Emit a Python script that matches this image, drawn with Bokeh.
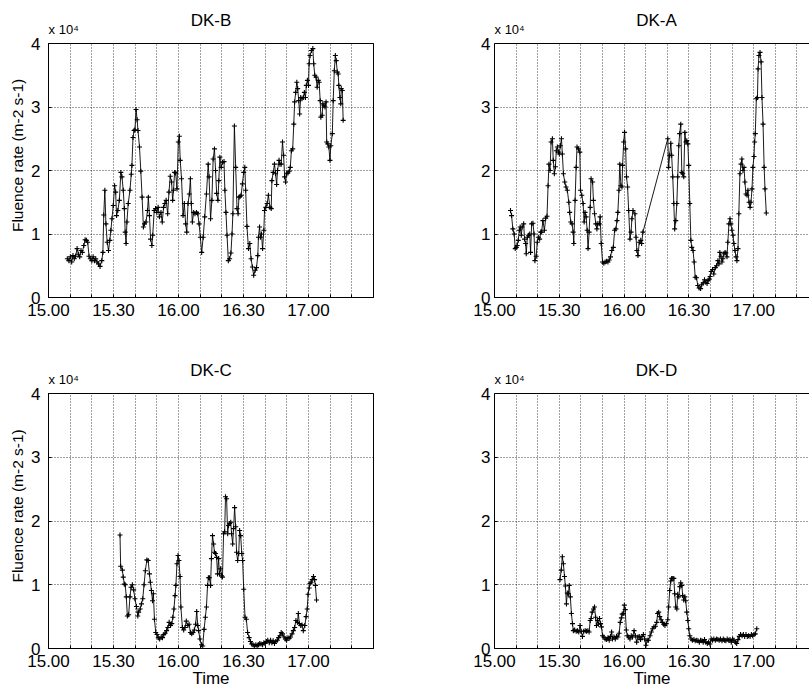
from bokeh.plotting import figure
from bokeh.models import Range1d, FixedTicker, LinearAxis
from bokeh.layouts import column, row
from bokeh.embed import file_html
from bokeh.resources import INLINE

FONT = "Liberation Sans"

# time axis: minutes after 15.00
X_TICKS = [0, 10, 20, 30, 40, 50, 60, 70, 80, 90, 100, 110, 120, 130, 140, 150]
X_TICK_TEXT = {0: "15.00", 30: "15.30", 60: "16.00", 90: "16.30", 120: "17.00"}
Y_TICKS = [0, 1, 2, 3, 4]  # fluence in units of 10^4 m-2 s-1
Y_LABEL = "Fluence rate (m-2 s-1)"
X_LABEL = "Time"
SCALE_TEXT = "x 10\u2074"

# ---------------- DK-B ----------------
dkb_t = [8.7, 9.4, 10.1, 10.7, 11.3, 11.9, 12.5, 13.2, 13.8, 14.4,
         15.0, 15.6, 16.3, 16.9, 17.5, 18.1, 18.7, 19.3, 20.0, 20.6,
         21.2, 21.8, 22.4, 23.1, 23.8, 24.6, 25.1, 25.5, 26.0, 26.5,
         27.1, 27.7, 28.3, 28.8, 29.3, 29.9, 30.5, 31.0, 31.4, 32.0,
         32.7, 33.4, 33.9, 34.5, 35.0, 35.4, 35.8, 36.2, 36.8, 37.6,
         38.2, 38.5, 39.0, 39.5, 39.9, 40.4, 40.9, 41.3, 42.0, 42.6,
         43.2, 43.8, 44.3, 45.0, 45.7, 46.1, 46.6, 47.1, 47.7, 48.1,
         48.8, 49.4, 50.0, 50.6, 51.2, 51.9, 52.5, 53.1, 53.7, 54.3,
         55.0, 55.6, 56.2, 56.8, 57.3, 57.7, 58.2, 58.7, 59.3, 59.9,
         60.4, 60.8, 61.4, 62.1, 62.7, 63.3, 63.8, 64.4, 65.0, 65.5,
         65.9, 66.4, 67.0, 67.6, 68.3, 68.9, 69.5, 70.1, 70.7, 71.4,
         72.1, 72.9, 73.7, 74.1, 74.8, 75.4, 76.0, 76.6, 77.1, 77.6,
         78.2, 78.6, 79.1, 79.7, 80.3, 81.0, 81.4, 81.9, 82.4, 83.0,
         83.6, 84.2, 84.7, 85.1, 85.8, 86.4, 87.0, 87.5, 87.9, 88.4,
         88.9, 89.5, 90.1, 90.6, 91.0, 91.6, 92.3, 92.9, 93.5, 94.1,
         94.7, 95.4, 96.0, 96.6, 96.9, 97.4, 97.8, 98.3, 98.8, 99.4,
         99.7, 100.3, 100.9, 101.5, 102.2, 102.8, 103.1, 103.7, 104.3, 104.8,
         105.3, 105.7, 106.4, 106.8, 107.4, 108.0, 108.5, 109.0, 109.4, 109.9,
         110.5, 111.1, 111.6, 112.1, 112.7, 113.2, 113.6, 114.1, 114.6, 115.0,
         115.5, 115.9, 116.4, 117.0, 117.6, 118.1, 118.6, 119.0, 119.5, 120.0,
         120.3, 120.7, 121.4, 122.0, 122.4, 122.9, 123.5, 124.0, 124.5, 124.9,
         125.4, 125.7, 126.3, 126.6, 127.1, 127.6, 128.1, 128.4, 128.9, 129.4,
         129.9, 130.3, 131.0, 131.4, 131.9, 132.4, 132.8, 133.3, 133.7, 134.0,
         134.5, 134.9, 135.1, 135.6, 136.0]
dkb_v = [0.61, 0.58, 0.64, 0.56, 0.66, 0.61, 0.65, 0.77, 0.68, 0.64,
         0.74, 0.71, 0.82, 0.91, 0.90, 0.87, 0.65, 0.61, 0.58, 0.64,
         0.58, 0.61, 0.56, 0.53, 0.49, 0.58, 0.71, 1.30, 1.69, 1.16,
         0.87, 0.74, 0.90, 1.06, 1.24, 1.45, 1.76, 1.66, 1.29, 1.37,
         1.53, 1.97, 1.90, 1.69, 1.40, 1.03, 0.85, 1.19, 1.48, 1.69,
         1.94, 2.08, 2.52, 2.63, 2.64, 2.96, 2.80, 2.63, 2.37, 1.99,
         1.58, 1.11, 1.16, 1.19, 1.37, 1.58, 1.29, 0.92, 0.82, 0.98,
         1.37, 1.40, 1.34, 1.42, 1.27, 1.34, 1.19, 1.42, 1.48, 1.53,
         1.32, 1.66, 1.91, 1.82, 1.53, 1.69, 1.97, 1.96, 1.71, 2.45,
         2.54, 2.16, 1.87, 1.29, 1.48, 1.16, 1.03, 1.48, 1.63, 1.87,
         1.48, 1.19, 1.34, 1.32, 1.34, 1.32, 1.16, 0.95, 0.71, 0.95,
         1.27, 1.63, 2.10, 1.90, 1.24, 1.53, 2.18, 2.34, 2.00, 1.64,
         1.53, 1.84, 2.21, 2.05, 2.13, 2.14, 1.69, 1.34, 0.98, 0.58,
         0.61, 0.70, 1.00, 1.32, 2.70, 2.05, 1.40, 1.32, 1.58, 1.59,
         1.61, 1.79, 1.97, 2.05, 1.69, 1.12, 0.77, 0.85, 0.61, 0.48,
         0.35, 0.43, 0.47, 0.66, 0.95, 1.11, 0.95, 1.00, 0.77, 1.06,
         1.37, 1.42, 1.48, 1.61, 1.42, 1.40, 1.84, 1.97, 2.10, 1.95,
         1.78, 2.00, 2.16, 2.10, 2.10, 2.45, 2.24, 1.90, 1.82, 1.95,
         1.96, 1.99, 2.05, 2.31, 2.34, 2.73, 3.08, 3.23, 3.39, 3.29,
         3.10, 2.89, 3.15, 3.13, 3.15, 3.23, 3.15, 3.34, 3.42, 3.34,
         3.68, 3.81, 3.89, 3.92, 3.68, 3.50, 3.47, 3.31, 3.42, 3.39,
         3.10, 2.84, 2.87, 3.05, 3.02, 3.00, 3.08, 2.45, 2.42, 2.37,
         2.16, 2.39, 2.58, 3.10, 3.57, 3.81, 3.73, 3.55, 3.52, 3.34,
         3.15, 3.05, 3.29, 3.26, 2.79]

# ---------------- DK-A ----------------
dka_t = [7.4, 7.9, 8.5, 9.1, 9.6, 10.1, 10.5, 11.0, 11.5, 11.9,
         12.4, 12.8, 13.5, 13.9, 14.4, 14.7, 15.2, 15.8, 16.3, 16.7,
         17.2, 17.8, 18.3, 18.7, 19.3, 19.8, 20.3, 20.9, 21.4, 21.8,
         22.4, 23.1, 23.7, 24.3, 24.8, 25.2, 25.7, 26.2, 26.8, 27.2,
         27.7, 28.2, 28.6, 29.1, 29.6, 30.0, 30.5, 31.0, 31.4, 31.9,
         32.5, 33.1, 33.7, 34.4, 34.8, 35.3, 35.9, 36.4, 36.7, 37.3,
         37.8, 38.2, 38.9, 39.5, 39.8, 40.4, 41.0, 41.5, 41.9, 42.4,
         42.9, 43.3, 43.8, 44.3, 44.7, 45.4, 45.8, 46.3, 46.9, 47.4,
         47.8, 48.5, 48.9, 49.4, 50.0, 50.6, 51.2, 51.9, 52.5, 53.1,
         53.7, 54.3, 55.0, 55.6, 56.2, 56.7, 57.1, 57.6, 58.0, 58.5,
         59.0, 59.3, 59.8, 60.2, 60.7, 61.1, 61.6, 62.1, 62.7, 63.2,
         63.6, 64.1, 65.0, 65.5, 65.9, 66.4, 67.0, 67.7, 68.1, 68.7,
         80.2, 80.6, 81.1, 81.6, 82.0, 82.5, 83.0, 83.4, 83.9, 84.4,
         84.8, 85.3, 85.7, 86.2, 86.7, 87.1, 87.6, 88.1, 88.6, 89.0,
         89.5, 89.9, 90.4, 90.9, 91.3, 91.9, 92.4, 92.9, 93.5, 94.1,
         94.7, 95.4, 95.9, 96.6, 97.2, 97.8, 98.4, 98.9, 99.4, 99.8,
         100.3, 100.9, 101.5, 102.2, 102.8, 103.4, 103.9, 104.3, 104.8, 105.3,
         105.7, 106.2, 106.7, 107.1, 107.6, 108.0, 108.5, 109.0, 109.4, 109.9,
         110.4, 110.8, 111.3, 111.8, 112.2, 112.7, 113.1, 113.6, 114.1, 114.5,
         115.0, 115.5, 115.9, 116.4, 116.9, 117.3, 117.8, 118.3, 118.7, 119.2,
         119.6, 120.1, 120.4, 120.7, 121.2, 121.7, 122.0, 122.4, 122.9, 123.4,
         123.8, 124.3, 124.8, 125.2, 125.8]
dka_v = [1.37, 1.29, 1.08, 1.00, 0.77, 0.79, 0.82, 0.90, 1.06, 1.11,
         0.98, 1.11, 1.16, 0.92, 0.85, 0.69, 0.95, 0.98, 1.00, 0.71,
         1.16, 1.17, 1.00, 0.58, 0.65, 0.87, 0.95, 0.92, 1.03, 1.03,
         1.21, 1.06, 1.25, 1.28, 1.76, 2.10, 2.00, 2.45, 2.50, 2.16,
         1.95, 2.06, 2.31, 2.37, 2.29, 2.26, 2.39, 2.50, 2.26, 1.95,
         1.82, 1.74, 1.69, 1.50, 1.34, 1.19, 1.16, 1.03, 0.85, 1.53,
         2.05, 2.37, 2.34, 2.29, 1.69, 1.61, 1.48, 1.19, 1.34, 1.27,
         1.06, 0.77, 1.03, 1.42, 1.87, 1.82, 1.53, 1.32, 1.16, 1.08,
         1.16, 1.16, 1.27, 0.85, 0.56, 0.54, 0.56, 0.57, 0.56, 0.59,
         0.64, 0.74, 0.79, 1.06, 1.08, 1.21, 1.34, 1.69, 2.10, 1.76,
         1.74, 2.08, 2.45, 2.60, 2.34, 1.90, 1.74, 1.37, 0.92, 1.03,
         1.24, 1.37, 1.32, 0.95, 0.74, 0.66, 0.87, 0.90, 0.85, 1.03,
         2.50, 2.05, 2.24, 2.43, 2.24, 1.90, 1.48, 1.08, 1.21, 1.48,
         1.90, 2.39, 2.58, 2.73, 1.97, 1.95, 1.90, 2.60, 2.45, 2.47,
         2.42, 2.08, 1.48, 0.90, 0.79, 0.74, 0.56, 0.32, 0.31, 0.19,
         0.15, 0.14, 0.20, 0.23, 0.28, 0.24, 0.22, 0.27, 0.29, 0.33,
         0.41, 0.44, 0.37, 0.47, 0.50, 0.58, 0.53, 0.71, 0.65, 0.56,
         0.61, 0.69, 0.71, 0.70, 0.64, 0.87, 1.16, 1.24, 1.16, 1.06,
         0.98, 0.85, 0.74, 0.64, 0.58, 0.77, 1.32, 1.95, 2.10, 2.18,
         2.00, 2.05, 1.82, 1.63, 1.61, 1.69, 1.50, 1.42, 1.50, 1.71,
         2.05, 2.22, 2.45, 2.58, 3.13, 3.15, 3.60, 3.81, 3.86, 3.71,
         3.15, 2.73, 2.05, 1.71, 1.33]

# ---------------- DK-C ----------------
dkc_t = [33.0, 33.3, 34.1, 34.5, 35.0, 35.4, 35.9, 36.4, 37.0, 37.6,
         38.1, 38.7, 39.3, 39.9, 40.6, 41.2, 41.6, 42.3, 42.9, 43.5,
         44.1, 44.7, 45.4, 46.0, 46.6, 47.0, 47.5, 48.0, 48.4, 48.9,
         49.5, 50.1, 50.7, 51.3, 52.0, 52.6, 53.2, 53.8, 54.5, 55.1,
         55.7, 56.3, 56.9, 57.4, 57.9, 58.4, 58.8, 59.3, 59.8, 60.2,
         60.7, 61.1, 61.8, 62.4, 63.0, 63.6, 64.3, 64.9, 65.5, 66.1,
         66.7, 67.3, 67.9, 68.4, 68.9, 69.3, 69.9, 70.6, 71.2, 71.8,
         72.4, 72.9, 73.4, 73.8, 74.3, 74.8, 75.2, 75.7, 76.2, 76.6,
         77.1, 77.6, 78.0, 78.5, 78.9, 79.4, 79.9, 80.3, 80.8, 81.3,
         81.7, 82.2, 82.7, 83.1, 83.6, 84.1, 84.5, 85.0, 85.4, 85.9,
         86.4, 86.8, 87.3, 87.8, 88.2, 88.7, 89.2, 89.6, 90.1, 90.7,
         91.3, 91.9, 92.6, 93.2, 93.8, 94.4, 95.0, 95.7, 96.3, 96.9,
         97.5, 98.1, 98.8, 99.4, 100.0, 100.6, 101.2, 101.9, 102.5, 103.1,
         103.7, 104.3, 104.9, 105.6, 106.2, 106.8, 107.4, 108.0, 108.7, 109.3,
         109.9, 110.5, 111.1, 111.7, 112.4, 113.0, 113.6, 114.2, 114.9, 115.3,
         115.8, 116.4, 117.0, 117.6, 118.3, 118.9, 119.4, 119.8, 120.3, 120.7,
         121.2, 121.7, 122.3, 122.8, 123.2, 123.7]
dkc_v = [1.78, 1.29, 1.23, 1.12, 1.01, 1.00, 0.81, 0.51, 0.53, 0.81,
         0.96, 1.00, 0.92, 0.78, 0.66, 0.51, 0.57, 0.62, 0.70, 0.78,
         1.00, 1.22, 1.39, 1.38, 1.17, 1.04, 0.91, 0.75, 0.86, 0.46,
         0.25, 0.22, 0.17, 0.15, 0.18, 0.17, 0.22, 0.24, 0.28, 0.33,
         0.41, 0.36, 0.39, 0.49, 0.62, 0.83, 0.99, 1.33, 1.46, 1.38,
         1.13, 0.65, 0.33, 0.29, 0.33, 0.43, 0.36, 0.38, 0.25, 0.23,
         0.25, 0.29, 0.38, 0.58, 0.36, 0.28, 0.15, 0.06, 0.04, 0.30,
         0.49, 0.65, 0.99, 1.11, 1.11, 0.99, 1.41, 1.77, 1.64, 1.51,
         1.49, 1.43, 1.17, 1.41, 1.17, 1.25, 1.14, 1.12, 1.80, 1.83,
         2.38, 2.35, 1.80, 1.93, 1.96, 1.98, 1.80, 1.64, 1.88, 2.21,
         1.91, 1.51, 1.38, 1.49, 1.85, 1.77, 1.49, 1.38, 0.93, 0.49,
         0.46, 0.25, 0.17, 0.11, 0.07, 0.06, 0.04, 0.06, 0.04, 0.06,
         0.08, 0.07, 0.06, 0.09, 0.08, 0.11, 0.13, 0.09, 0.13, 0.09,
         0.12, 0.08, 0.11, 0.13, 0.17, 0.20, 0.25, 0.23, 0.18, 0.15,
         0.13, 0.17, 0.16, 0.18, 0.23, 0.28, 0.33, 0.44, 0.41, 0.55,
         0.39, 0.36, 0.37, 0.28, 0.36, 0.50, 0.62, 0.85, 0.95, 1.02,
         1.04, 1.08, 1.13, 1.08, 0.99, 0.76]

# ---------------- DK-D ----------------
dkd_t = [30.3, 30.9, 31.4, 31.9, 32.4, 32.8, 33.3, 33.7, 34.2, 34.6,
         35.1, 35.6, 36.1, 36.5, 37.1, 37.8, 38.4, 39.0, 39.6, 40.1,
         40.7, 41.3, 42.0, 42.6, 43.2, 43.8, 44.3, 44.7, 45.2, 45.8,
         46.3, 46.8, 47.2, 47.7, 48.1, 48.6, 49.1, 49.5, 50.0, 50.6,
         51.2, 51.9, 52.5, 53.1, 53.7, 54.2, 54.6, 55.3, 55.9, 56.5,
         57.1, 57.7, 58.2, 58.7, 59.1, 59.6, 60.1, 60.5, 61.0, 61.5,
         62.1, 62.7, 63.3, 63.9, 64.6, 65.2, 65.8, 66.4, 67.0, 67.6,
         68.3, 68.9, 69.5, 70.1, 70.7, 71.3, 72.0, 72.6, 73.2, 73.8,
         74.5, 75.1, 75.5, 76.0, 76.5, 77.1, 77.7, 78.3, 78.9, 79.5,
         80.2, 80.6, 81.1, 81.6, 82.0, 82.5, 83.0, 83.4, 83.9, 84.4,
         84.8, 85.3, 85.8, 86.2, 86.7, 87.1, 87.6, 88.1, 88.5, 89.0,
         89.5, 89.9, 90.4, 91.0, 91.6, 92.3, 92.9, 93.6, 94.2, 94.8,
         95.4, 96.0, 96.6, 97.2, 97.8, 98.5, 99.1, 99.7, 100.3, 100.9,
         101.5, 102.2, 102.8, 103.4, 104.0, 104.6, 105.3, 105.9, 106.5, 107.1,
         107.7, 108.4, 109.0, 109.6, 110.2, 110.8, 111.5, 112.1, 112.7, 113.3,
         113.9, 114.6, 115.2, 115.8, 116.4, 117.0, 117.6, 118.3, 118.9, 119.5,
         120.1, 120.7, 121.4]
dkd_v = [1.08, 1.23, 1.44, 1.33, 1.13, 0.98, 0.70, 0.87, 0.86, 0.99,
         0.81, 0.55, 0.39, 0.28, 0.29, 0.27, 0.28, 0.26, 0.36, 0.27,
         0.19, 0.27, 0.28, 0.27, 0.28, 0.26, 0.44, 0.47, 0.57, 0.62,
         0.65, 0.49, 0.36, 0.44, 0.38, 0.47, 0.39, 0.34, 0.20, 0.18,
         0.15, 0.14, 0.17, 0.13, 0.19, 0.26, 0.15, 0.18, 0.15, 0.19,
         0.18, 0.24, 0.41, 0.48, 0.54, 0.55, 0.68, 0.61, 0.29, 0.20,
         0.18, 0.15, 0.20, 0.18, 0.28, 0.20, 0.10, 0.18, 0.19, 0.14,
         0.19, 0.22, 0.15, 0.05, 0.13, 0.13, 0.20, 0.26, 0.31, 0.34,
         0.35, 0.41, 0.55, 0.57, 0.50, 0.45, 0.41, 0.38, 0.36, 0.39,
         0.45, 0.65, 0.91, 1.06, 1.10, 1.10, 1.10, 0.86, 0.65, 0.62,
         0.85, 0.81, 0.97, 1.03, 0.99, 0.83, 0.76, 0.81, 0.75, 0.57,
         0.44, 0.31, 0.20, 0.15, 0.13, 0.14, 0.12, 0.13, 0.12, 0.10,
         0.13, 0.12, 0.10, 0.14, 0.10, 0.08, 0.10, 0.07, 0.15, 0.13,
         0.15, 0.13, 0.15, 0.14, 0.13, 0.15, 0.12, 0.15, 0.13, 0.12,
         0.15, 0.13, 0.14, 0.10, 0.15, 0.13, 0.10, 0.08, 0.14, 0.19,
         0.22, 0.20, 0.22, 0.19, 0.22, 0.19, 0.20, 0.19, 0.22, 0.20,
         0.22, 0.23, 0.31]

TEXT = "#000000"
SCALE_POS = 7     # minutes: where the "x 10^4" note sits
TITLE_POS = 75    # minutes: middle of the axes


def style_axis(ax, size="17px"):
    ax.axis_line_color = "black"
    ax.axis_line_width = 1
    ax.major_tick_line_color = "black"
    ax.major_tick_in = 3
    ax.major_tick_out = 0
    ax.minor_tick_line_color = None
    ax.major_label_text_font = FONT
    ax.major_label_text_font_size = size
    ax.major_label_text_color = TEXT


def make_panel(title, t, v, is_left, is_bottom):
    width = 380 if is_left else 429
    height = 346 if is_bottom else 345
    x_end = 150 if is_left else 145.8
    p = figure(width=width, height=height, output_backend="svg",
               toolbar_location=None, title=None,
               x_range=Range1d(0, x_end), y_range=Range1d(0, 4),
               min_border_left=48 if is_left else 114,
               min_border_right=7 if is_left else 0,
               min_border_top=48 if is_bottom else 43,
               min_border_bottom=43 if is_bottom else 48)
    p.background_fill_color = "white"
    p.border_fill_color = "white"
    p.outline_line_color = "black" if is_left else None

    p.xaxis.ticker = FixedTicker(ticks=X_TICKS)
    p.xaxis.major_label_overrides = {tk: X_TICK_TEXT.get(tk, "") for tk in X_TICKS}
    p.yaxis.ticker = FixedTicker(ticks=Y_TICKS)
    p.yaxis.major_label_overrides = {tk: str(tk) for tk in Y_TICKS}
    style_axis(p.xaxis[0])
    style_axis(p.yaxis[0])
    p.xaxis.major_label_standoff = 6
    p.yaxis.major_label_standoff = 8 if is_left else 4

    if is_left:
        p.yaxis.axis_label = "\u00a0" * 7 + Y_LABEL
        p.yaxis.axis_label_text_font = FONT
        p.yaxis.axis_label_text_font_size = "15.5px"
        p.yaxis.axis_label_text_font_style = "normal"
        p.yaxis.axis_label_text_color = TEXT
        p.yaxis.axis_label_standoff = 2
    if is_bottom:
        p.xaxis.axis_label = X_LABEL
        p.xaxis.axis_label_text_font = FONT
        p.xaxis.axis_label_text_font_size = "17px"
        p.xaxis.axis_label_text_font_style = "normal"
        p.xaxis.axis_label_text_color = TEXT
        p.xaxis.axis_label_standoff = -1

    # top edge carrying the "x 10^4" note, then the panel title above it
    top = LinearAxis(ticker=FixedTicker(ticks=[SCALE_POS]),
                     major_label_overrides={SCALE_POS: SCALE_TEXT})
    style_axis(top, "13px")
    top.major_tick_line_color = None
    top.major_label_standoff = 7
    p.add_layout(top, "above")

    ttl = LinearAxis(ticker=FixedTicker(ticks=[TITLE_POS]),
                     major_label_overrides={TITLE_POS: title})
    style_axis(ttl, "17px")
    ttl.axis_line_color = None
    ttl.major_tick_line_color = None
    ttl.major_label_standoff = -11
    p.add_layout(ttl, "above")

    for g in (p.xgrid[0], p.ygrid[0]):
        g.grid_line_color = "black"
        g.grid_line_alpha = 0.75
        g.grid_line_dash = "1 2"
        g.grid_line_width = 1

    p.line(t, v, line_color="black", line_width=0.9)
    p.scatter(t, v, marker="cross", size=5, line_color="black", line_width=1.1)
    return p


pb = make_panel("DK-B", dkb_t, dkb_v, True, False)
pa = make_panel("DK-A", dka_t, dka_v, False, False)
pc = make_panel("DK-C", dkc_t, dkc_v, True, True)
pd = make_panel("DK-D", dkd_t, dkd_v, False, True)

layout = column(row(pb, pa), row(pc, pd))
open("out.html", "w").write(file_html(layout, INLINE))
